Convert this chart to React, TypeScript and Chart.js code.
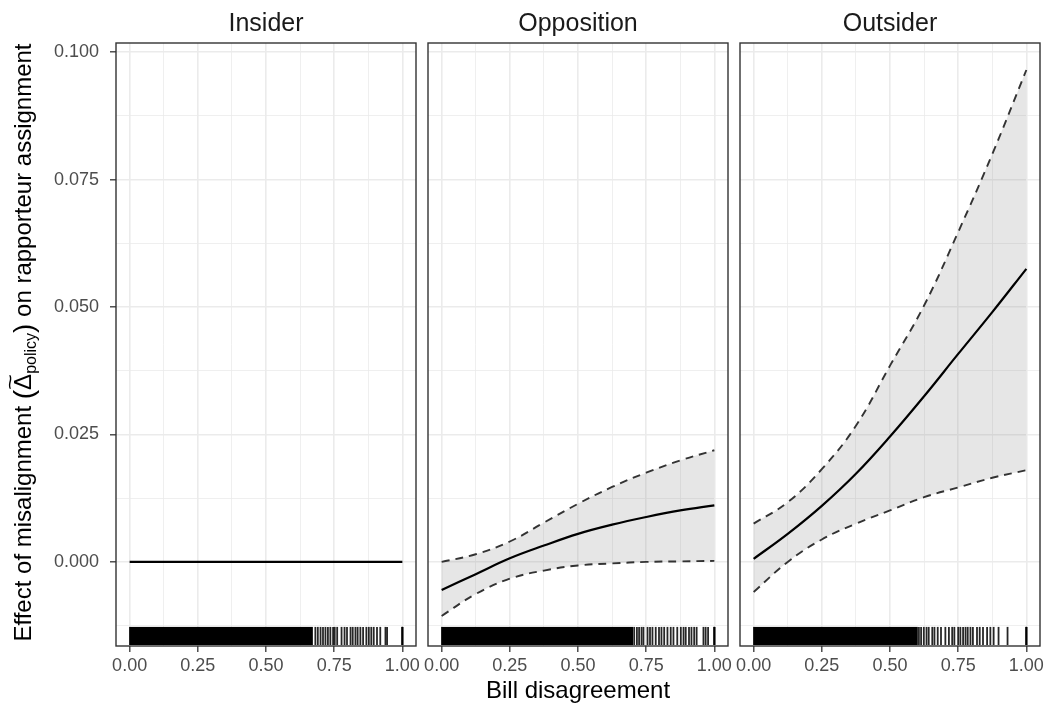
import React, { useEffect, useRef } from 'react';
import { Chart, registerables } from 'chart.js';

Chart.register(...registerables);

// ---------- data ----------
const panelNames = ['Insider', 'Opposition', 'Outsider'];
const xTitle = 'Bill disagreement';
const yTitleStart = 'Effect of misalignment ';
const yTitleSymbol = 'Δ';
const yTitleSub = 'policy';
const yTitleEnd = ' on rapporteur assignment';

const xGrid = [0, 0.125, 0.25, 0.375, 0.5, 0.625, 0.75, 0.875, 1];

const insiderX = [0, 1];
const insiderMean = [0, 0];

const oppositionMean = [-0.0055, -0.0024, 0.0007, 0.0032, 0.0055, 0.0073, 0.0088, 0.0101, 0.0111];
const oppositionUpper = [0.0, 0.0015, 0.004, 0.0077, 0.0114, 0.0147, 0.0175, 0.0199, 0.0219];
const oppositionLower = [-0.0106, -0.0063, -0.0033, -0.0017, -0.0007, -0.0003, 0.0, 0.0001, 0.0002];

const outsiderMean = [0.0006, 0.0055, 0.011, 0.0173, 0.0246, 0.0325, 0.0408, 0.049, 0.0575];
const outsiderUpper = [0.0075, 0.0117, 0.0182, 0.0267, 0.0385, 0.0503, 0.0647, 0.08, 0.0965];
const outsiderLower = [-0.0059, 0.0, 0.0044, 0.0075, 0.0101, 0.0127, 0.0146, 0.0165, 0.018];

// rug: dense (solid) span and the individual sparse ticks
const insiderRugSolid = [0, 0.67];
const insiderRugTicks = [0.681, 0.69, 0.7, 0.709, 0.718, 0.727, 0.736, 0.746, 0.752, 0.761, 0.777, 0.788, 0.797, 0.81, 0.818, 0.828, 0.836, 0.846, 0.856, 0.868, 0.877, 0.886, 0.895, 0.907, 0.919, 0.938, 0.944, 1, 1, 1];
const oppositionRugSolid = [0, 0.7];
const oppositionRugTicks = [0.706, 0.716, 0.724, 0.733, 0.74, 0.755, 0.764, 0.773, 0.785, 0.797, 0.806, 0.816, 0.828, 0.84, 0.85, 0.864, 0.877, 0.887, 0.895, 0.907, 0.916, 0.926, 0.935, 0.96, 0.968, 0.977, 1, 1, 1];
const outsiderRugSolid = [0, 0.6];
const outsiderRugTicks = [0.606, 0.614, 0.624, 0.634, 0.642, 0.655, 0.663, 0.675, 0.687, 0.703, 0.716, 0.728, 0.736, 0.75, 0.758, 0.768, 0.777, 0.785, 0.795, 0.804, 0.819, 0.829, 0.841, 0.856, 0.868, 0.88, 0.898, 0.931, 1, 1, 1];

const xMajorTicks = [0, 0.25, 0.5, 0.75, 1];
const xMinorTicks = [0.125, 0.375, 0.625, 0.875];
const yMajorTicks = [0, 0.025, 0.05, 0.075, 0.1];
const yMinorTicks = [-0.0125, 0.0125, 0.0375, 0.0625, 0.0875];

const xRange = [-0.05, 1.05];
const yRange = [-0.0165, 0.1018];

// ---------- layout / style ----------
const W = 1051;
const H = 707;
const PANEL_LEFT = [116, 428, 740];
const PANEL_W = 300;
const PANEL_TOP = 43;
const PANEL_BOTTOM = 646;
const X_AXIS_H = 40;
const Y_AXIS_W = 70;
const FONT = '"Liberation Sans", Arial, Helvetica, sans-serif';

const isIn = (v: number, list: number[]) => list.some((m) => Math.abs(m - v) < 1e-9);
const pts = (xs: number[], ys: number[]) => xs.map((x, k) => ({ x, y: ys[k] }));

type PanelData = {
  mean: { x: number; y: number }[];
  upper?: { x: number; y: number }[];
  lower?: { x: number; y: number }[];
  rugSolid: number[];
  rugTicks: number[];
};

const panels: PanelData[] = [
  { mean: pts(insiderX, insiderMean), rugSolid: insiderRugSolid, rugTicks: insiderRugTicks },
  {
    mean: pts(xGrid, oppositionMean),
    upper: pts(xGrid, oppositionUpper),
    lower: pts(xGrid, oppositionLower),
    rugSolid: oppositionRugSolid,
    rugTicks: oppositionRugTicks,
  },
  {
    mean: pts(xGrid, outsiderMean),
    upper: pts(xGrid, outsiderUpper),
    lower: pts(xGrid, outsiderLower),
    rugSolid: outsiderRugSolid,
    rugTicks: outsiderRugTicks,
  },
];

function drawYTitle(ctx: CanvasRenderingContext2D) {
  ctx.save();
  ctx.translate(31, (PANEL_TOP + PANEL_BOTTOM) / 2 - 2);
  ctx.rotate(-Math.PI / 2);
  ctx.fillStyle = '#000';
  ctx.textBaseline = 'alphabetic';
  const big = `24px ${FONT}`;
  const paren = `28px ${FONT}`;
  const sub = `16px ${FONT}`;
  const parts = [
    { t: yTitleStart, f: big, dy: 0 },
    { t: '(', f: paren, dy: 2 },
    { t: yTitleSymbol, f: big, dy: 0, tilde: true },
    { t: yTitleSub, f: sub, dy: 5 },
    { t: ')', f: paren, dy: 2 },
    { t: yTitleEnd, f: big, dy: 0 },
  ];
  let total = 0;
  const widths = parts.map((p) => {
    ctx.font = p.f;
    const w = ctx.measureText(p.t).width;
    total += w;
    return w;
  });
  let x = -total / 2;
  parts.forEach((p, k) => {
    ctx.font = p.f;
    ctx.fillText(p.t, x, p.dy);
    if ((p as any).tilde) {
      ctx.font = `20px ${FONT}`;
      const tw = ctx.measureText('~').width;
      ctx.save();
      ctx.translate(x + widths[k] / 2, -14);
      ctx.scale(widths[k] / tw, 1);
      ctx.fillText('~', -tw / 2, 0);
      ctx.restore();
    }
    x += widths[k];
  });
  ctx.restore();
}

function makePlugin(i: number) {
  return {
    id: 'facetDecor' + i,
    afterDatasetsDraw(chart: any) {
      const { ctx, chartArea, scales } = chart;
      const xs = scales.x;
      const p = panels[i];
      const rugLen = (chartArea.bottom - chartArea.top) * 0.03;
      const yb = chartArea.bottom - 1;
      ctx.save();
      ctx.fillStyle = '#000';
      const x0 = xs.getPixelForValue(p.rugSolid[0]);
      const x1 = xs.getPixelForValue(p.rugSolid[1]);
      ctx.fillRect(x0 - 0.5, yb - rugLen, x1 - x0 + 1, rugLen);
      ctx.strokeStyle = 'rgba(0,0,0,0.85)';
      ctx.lineWidth = 1.8;
      p.rugTicks.forEach((v) => {
        const px = xs.getPixelForValue(v);
        ctx.beginPath();
        ctx.moveTo(px, yb - rugLen);
        ctx.lineTo(px, yb);
        ctx.stroke();
      });
      ctx.restore();
    },
    afterDraw(chart: any) {
      const { ctx, chartArea } = chart;
      ctx.save();
      ctx.strokeStyle = '#333333';
      ctx.lineWidth = 1.4;
      ctx.strokeRect(chartArea.left, chartArea.top, chartArea.right - chartArea.left, chartArea.bottom - chartArea.top);
      ctx.fillStyle = '#1A1A1A';
      ctx.font = `25px ${FONT}`;
      ctx.textAlign = 'center';
      ctx.textBaseline = 'alphabetic';
      ctx.fillText(panelNames[i], (chartArea.left + chartArea.right) / 2, 31);
      if (i === 1) {
        ctx.fillStyle = '#000';
        ctx.font = `24px ${FONT}`;
        ctx.fillText(xTitle, (chartArea.left + chartArea.right) / 2, 698);
      }
      ctx.restore();
      if (i === 0) drawYTitle(ctx);
    },
  };
}

function makeConfig(i: number): any {
  const p = panels[i];
  const datasets: any[] = [];
  if (p.lower && p.upper) {
    datasets.push({
      data: p.lower,
      borderColor: '#333333',
      borderWidth: 1.9,
      borderDash: [8, 6],
      pointRadius: 0,
      fill: false,
      tension: 0.4,
    });
    datasets.push({
      data: p.upper,
      borderColor: '#333333',
      borderWidth: 1.9,
      borderDash: [8, 6],
      pointRadius: 0,
      fill: '-1',
      backgroundColor: 'rgba(128,128,128,0.2)',
      tension: 0.4,
    });
  }
  datasets.push({
    data: p.mean,
    borderColor: '#000000',
    borderWidth: 2.2,
    pointRadius: 0,
    fill: false,
    tension: 0.4,
  });

  const left = PANEL_LEFT[i];
  const yW = i === 0 ? Y_AXIS_W : 0;
  return {
    type: 'line',
    data: { datasets },
    plugins: [makePlugin(i)],
    options: {
      animation: false,
      responsive: false,
      devicePixelRatio: 1,
      layout: {
        padding: {
          left: left - yW,
          right: W - (left + PANEL_W),
          top: PANEL_TOP,
          bottom: H - PANEL_BOTTOM - X_AXIS_H,
        },
      },
      plugins: {
        legend: { display: false },
        tooltip: { enabled: false },
        title: { display: false },
        filler: { drawTime: 'beforeDatasetsDraw' },
      },
      scales: {
        x: {
          type: 'linear',
          min: xRange[0],
          max: xRange[1],
          afterBuildTicks: (s: any) => {
            s.ticks = [...xMajorTicks, ...xMinorTicks].sort((a, b) => a - b).map((v) => ({ value: v }));
          },
          afterFit: (s: any) => {
            s.height = X_AXIS_H;
          },
          border: { display: false },
          grid: {
            color: '#EBEBEB',
            lineWidth: (c: any) => (c.tick && isIn(c.tick.value, xMajorTicks) ? 1.6 : 0.8),
            tickLength: 6,
            tickWidth: 1.3,
            tickColor: (c: any) => (c.tick && isIn(c.tick.value, xMajorTicks) ? '#333333' : 'rgba(0,0,0,0)'),
          },
          ticks: {
            autoSkip: false,
            maxRotation: 0,
            color: '#4D4D4D',
            padding: 3,
            font: { family: FONT, size: 18 },
            callback: (v: any) => (isIn(Number(v), xMajorTicks) ? Number(v).toFixed(2) : ''),
          },
        },
        y: {
          type: 'linear',
          min: yRange[0],
          max: yRange[1],
          afterBuildTicks: (s: any) => {
            s.ticks = [...yMajorTicks, ...yMinorTicks].sort((a, b) => a - b).map((v) => ({ value: v }));
          },
          afterFit: (s: any) => {
            s.width = yW;
          },
          border: { display: false },
          grid: {
            color: '#EBEBEB',
            lineWidth: (c: any) => (c.tick && isIn(c.tick.value, yMajorTicks) ? 1.6 : 0.8),
            drawTicks: i === 0,
            tickLength: 6,
            tickWidth: 1.3,
            tickColor: (c: any) => (c.tick && isIn(c.tick.value, yMajorTicks) ? '#333333' : 'rgba(0,0,0,0)'),
          },
          ticks: {
            display: i === 0,
            autoSkip: false,
            color: '#4D4D4D',
            padding: 11,
            font: { family: FONT, size: 18 },
            callback: (v: any) => (isIn(Number(v), yMajorTicks) ? Number(v).toFixed(3) : ''),
          },
        },
      },
    },
  };
}

export default function App() {
  const refs = useRef<(HTMLCanvasElement | null)[]>([]);
  useEffect(() => {
    const charts = refs.current.map((c, i) => (c ? new Chart(c, makeConfig(i)) : null));
    return () => {
      charts.forEach((ch) => ch && ch.destroy());
    };
  }, []);
  return (
    <div style={{ position: 'fixed', left: 0, top: 0, width: W, height: H, background: '#ffffff' }}>
      {[0, 1, 2].map((i) => (
        <canvas
          key={i}
          ref={(el) => {
            refs.current[i] = el;
          }}
          width={W}
          height={H}
          style={{ position: 'absolute', left: 0, top: 0, width: W, height: H }}
        />
      ))}
    </div>
  );
}
